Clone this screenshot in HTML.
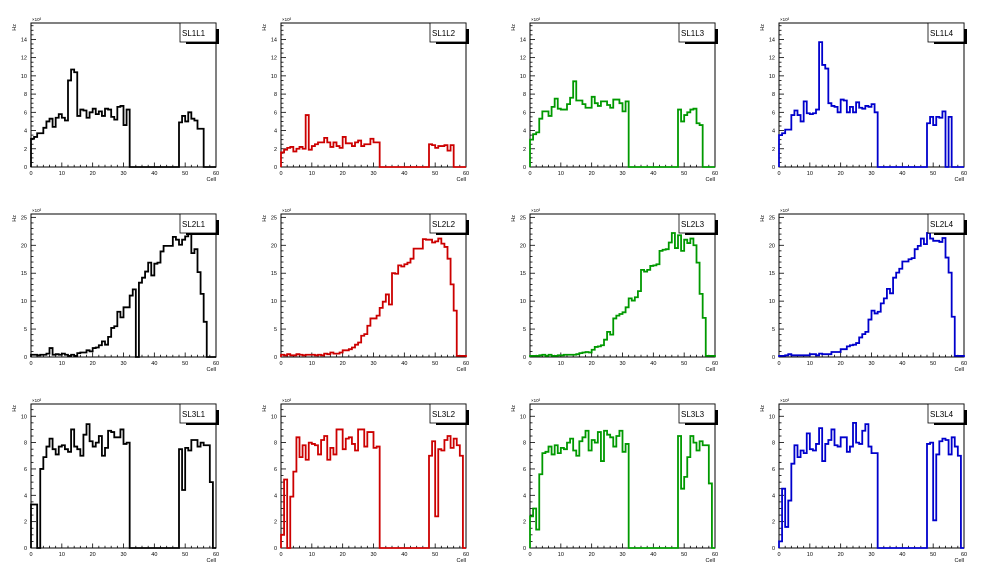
<!DOCTYPE html>
<html><head><meta charset="utf-8">
<style>
html,body{margin:0;padding:0;background:#fff;}
svg{display:block;font-family:"Liberation Sans",sans-serif;}
</style></head>
<body>
<svg id="chart" width="996" height="572" viewBox="0 0 996 572" xmlns="http://www.w3.org/2000/svg">
<rect x="0" y="0" width="996" height="572" fill="#ffffff"/>
</svg>
<script>
// Panel titles
const titles = ["SL1L1","SL1L2","SL1L3","SL1L4","SL2L1","SL2L2","SL2L3","SL2L4","SL3L1","SL3L2","SL3L3","SL3L4"];
// Bin values (x10^3 Hz), 60 bins per histogram
const sl1l1 = [3.1,3.3,3.7,3.7,4.3,5.0,5.3,4.4,5.4,5.8,5.4,5.1,9.5,10.7,10.4,5.6,6.3,6.2,5.4,6.0,6.4,5.8,6.1,5.6,6.4,6.3,5.5,5.2,6.6,6.7,4.6,6.3,0,0,0,0,0,0,0,0,0,0,0,0,0,0,0,0,4.9,5.6,5.0,6.0,5.3,5.1,4.2,4.2,0,0,0,0];
const sl1l2 = [1.6,1.9,2.1,2.2,1.7,2.0,2.2,2.0,5.7,1.9,2.3,2.5,2.7,2.7,3.2,2.7,2.2,2.7,2.3,2.1,3.3,2.6,2.6,2.3,2.7,2.9,2.3,2.5,2.5,3.1,2.7,2.7,0,0,0,0,0,0,0,0,0,0,0,0,0,0,0,0,2.5,2.4,2.1,2.3,2.3,2.4,1.8,2.4,0,0,0,0];
const sl1l3 = [3.0,3.6,3.8,5.3,6.1,6.1,5.6,6.6,7.5,6.4,6.3,6.3,6.9,7.6,9.4,7.3,7.3,6.9,6.5,6.5,7.7,7.0,6.7,7.2,7.2,6.8,6.5,7.4,7.4,7.0,6.1,7.2,0,0,0,0,0,0,0,0,0,0,0,0,0,0,0,0,6.3,5.0,5.7,6.0,6.3,6.4,4.8,4.6,0,0,0,0];
const sl1l4 = [3.5,3.7,4.1,4.1,5.7,6.2,5.7,5.0,7.2,5.9,5.8,5.9,6.3,13.7,11.2,10.8,7.0,6.7,6.6,6.0,7.4,7.3,6.0,6.6,6.0,7.1,6.5,6.4,6.7,6.6,6.9,6.0,0,0,0,0,0,0,0,0,0,0,0,0,0,0,0,0,4.8,5.5,4.6,5.5,5.4,6.1,0,5.5,0,0,0,0];
const sl2l1 = [0.4,0.4,0.3,0.4,0.4,0.6,1.6,0.4,0.5,0.4,0.6,0.4,0.2,0.4,0.2,0.7,0.8,0.8,1.2,1.0,1.6,1.7,2.1,2.8,2.2,3.6,5.2,5.5,8.1,7.1,8.9,8.9,11.0,12.1,0,13.3,14.2,15.3,16.9,14.6,16.7,16.9,18.9,19.9,19.9,19.9,21.5,21.0,20.1,21.0,21.6,22.0,18.6,19.3,15.2,11.3,6.3,0,0,0];
const sl2l2 = [0.4,0.3,0.5,0.3,0.3,0.5,0.4,0.3,0.4,0.4,0.4,0.3,0.4,0.3,0.6,0.5,0.8,0.6,0.6,0.8,1.2,1.2,1.4,1.7,2.2,2.6,3.8,4.1,5.6,6.9,6.9,7.4,8.8,9.9,11.2,9.4,15.0,14.9,16.4,16.2,16.6,16.9,17.6,19.4,19.4,19.4,21.1,21.0,21.0,20.5,20.7,21.2,20.3,19.7,17.6,13.0,8.3,0.2,0.2,0.2];
const sl2l3 = [0.2,0.2,0.2,0.3,0.4,0.2,0.4,0.2,0.2,0.3,0.3,0.4,0.4,0.4,0.4,0.5,0.7,0.8,0.9,0.8,1.3,1.8,1.9,2.1,3.1,4.5,4.0,6.9,7.4,7.7,8.0,8.9,10.5,10.1,10.7,11.8,15.6,15.3,15.6,16.3,16.4,16.6,19.0,19.2,19.3,20.5,22.2,19.5,21.8,19.0,21.0,20.4,21.2,20.0,16.9,11.3,7.0,0.2,0.2,0.2];
const sl2l4 = [0.2,0.2,0.3,0.5,0.3,0.3,0.3,0.3,0.3,0.3,0.5,0.5,0.3,0.6,0.5,0.5,0.5,0.9,0.9,0.9,1.4,1.4,1.9,2.1,2.2,2.5,3.5,4.1,4.5,6.7,8.3,7.8,8.1,9.6,10.5,12.2,11.4,14.2,15.1,15.8,17.1,17.1,17.5,17.7,19.3,19.9,21.2,20.2,22.2,21.2,20.8,20.8,20.6,21.3,17.8,15.1,7.2,0.2,0.2,0.2];
const sl3l1 = [3.3,3.3,0,6.0,6.9,7.7,8.3,7.5,7.1,7.7,7.8,7.5,7.3,9.0,7.7,7.5,7.0,8.6,9.4,8.1,7.7,8.0,8.5,7.0,7.6,8.9,8.8,8.4,8.4,9.0,7.9,8.0,0,0,0,0,0,0,0,0,0,0,0,0,0,0,0,0,7.5,4.4,7.6,7.4,8.2,8.2,7.7,8.0,7.8,7.8,5.0,0];
const sl3l2 = [1.0,5.2,0,3.9,5.8,8.4,6.9,7.8,6.7,8.0,7.9,7.8,7.1,8.2,8.5,6.7,7.6,7.1,9.0,9.0,7.5,8.3,8.4,7.9,7.4,9.0,9.0,7.7,8.8,8.8,7.6,7.7,0,0,0,0,0,0,0,0,0,0,0,0,0,0,0,0,7.0,8.1,2.4,7.5,7.4,8.2,8.5,7.6,8.3,7.8,7.0,0];
const sl3l3 = [2.4,3.0,1.4,5.6,7.2,7.3,7.7,7.1,7.8,7.2,7.6,7.5,8.0,8.3,7.4,7.0,8.1,8.4,8.9,7.4,8.2,8.0,8.8,6.6,8.9,8.6,8.4,7.7,8.5,8.9,7.3,7.9,0,0,0,0,0,0,0,0,0,0,0,0,0,0,0,0,8.5,4.5,5.4,6.9,8.5,8.0,7.4,8.1,7.8,7.8,4.9,0];
const sl3l4 = [0.5,4.5,1.6,3.6,6.4,7.8,6.9,7.4,7.2,8.7,7.5,7.4,7.9,9.1,6.6,7.9,8.2,9.0,7.8,7.7,8.4,8.4,7.3,7.7,9.5,8.0,7.9,8.9,9.4,7.7,7.2,7.2,0,0,0,0,0,0,0,0,0,0,0,0,0,0,0,0,7.9,8.0,2.1,7.1,8.1,8.3,8.2,7.1,8.4,7.7,7.0,0];
// Axis settings per row
const rowYMax = [15.8, 25.6, 10.93];
const rowYTickLabels = [[0,2,4,6,8,10,12,14],[0,5,10,15,20,25],[0,2,4,6,8,10]];
const rowMinorStep = [0.5, 1, 0.5];
const xTickLabels = [0,10,20,30,40,50,60];

const series = [sl1l1,sl1l2,sl1l3,sl1l4,sl2l1,sl2l2,sl2l3,sl2l4,sl3l1,sl3l2,sl3l3,sl3l4];
const colors = ["#000000","#cc0000","#009900","#0000cc"];
const colLeft = [31,281,530,779];
const W = 185;
const rowTB = [[23,167],[214,357],[404,548]];
const NS = "http://www.w3.org/2000/svg";
const svg = document.getElementById('chart');

function mk(tag, attrs, parent){
  const e = document.createElementNS(NS, tag);
  for (const k in attrs) e.setAttribute(k, attrs[k]);
  (parent||svg).appendChild(e);
  return e;
}

series.forEach((vals, i) => {
  const r = Math.floor(i/4), c = i%4;
  const L = colLeft[c], R = L + W, T = rowTB[r][0], B = rowTB[r][1];
  const ymax = rowYMax[r];
  const xs = v => L + v/60*W;
  const ys = v => B - v/ymax*(B-T);
  const g = mk('g', {});
  
  

  // frame
  const fr = mk('rect', {x:L, y:T, width:W, height:B-T, fill:'#fff', stroke:'#000', 'stroke-width':1}, g);
  
  

  // y ticks
  const ax = mk('g', {stroke:'#000','stroke-width':0.8}, g);
  
  
  const majStep = rowYTickLabels[r][1] - rowYTickLabels[r][0];
  for (let v = 0; v <= ymax + 1e-9; v += rowMinorStep[r]) {
    const isMaj = Math.abs(v/majStep - Math.round(v/majStep)) < 1e-6;
    const y = ys(v);
    mk('line', {x1:L, x2:L + (isMaj?5:2.5), y1:y, y2:y}, ax);
  }
  rowYTickLabels[r].forEach(v => {
    const t = mk('text', {x:L-4, y:ys(v)+2, 'font-size':5.5, 'text-anchor':'end', fill:'#000'}, g);
    t.textContent = v;
    
    
  });
  // x ticks
  const axx = mk('g', {stroke:'#000','stroke-width':0.8}, g);
  
  
  for (let v = 0; v <= 60; v += 2) {
    const isMaj = v % 10 === 0;
    const x = xs(v);
    mk('line', {x1:x, x2:x, y1:B, y2:B - (isMaj?4.5:2.2)}, axx);
  }
  xTickLabels.forEach(v => {
    const t = mk('text', {x:xs(v), y:B+8, 'font-size':5.5, 'text-anchor':'middle', fill:'#000'}, g);
    t.textContent = v;
    
    
  });
  const xt = mk('text', {x:R, y:B+14, 'font-size':5.5, 'text-anchor':'end', fill:'#000'}, g);
  xt.textContent = 'Cell';
  
  
  const yt = mk('text', {x:0, y:0, 'font-size':5.5, 'text-anchor':'end', fill:'#000', transform:'translate(' + (L-15) + ',' + (T+1) + ') rotate(-90)'}, g);
  yt.textContent = 'Hz';
  
  
  const ex = mk('text', {x:L+1, y:T-2, 'font-size':4.5, fill:'#000'}, g);
  ex.textContent = '×10³';
  
  

  // histogram
  let d = 'M' + xs(0) + ' ' + ys(0);
  vals.forEach((v, k) => {
    d += ' V' + ys(v).toFixed(2) + ' H' + xs(k+1).toFixed(2);
  });
  d += ' V' + ys(0);
  const p = mk('path', {d:d, fill:'none', stroke:colors[c], 'stroke-width':1.8, 'stroke-linejoin':'miter'}, g);
  
  

  // title box with shadow
  const sh = mk('rect', {x:R-30, y:T+6, width:33, height:15, fill:'#000'}, g);
  
  
  const bx = mk('rect', {x:R-36, y:T, width:36, height:19, fill:'#fff', stroke:'#000', 'stroke-width':0.8}, g);
  
  
  const tt = mk('text', {x:R-34, y:T+13, 'font-size':8, fill:'#000'}, g);
  tt.textContent = titles[i];
  
  
});
</script>
</body></html>
